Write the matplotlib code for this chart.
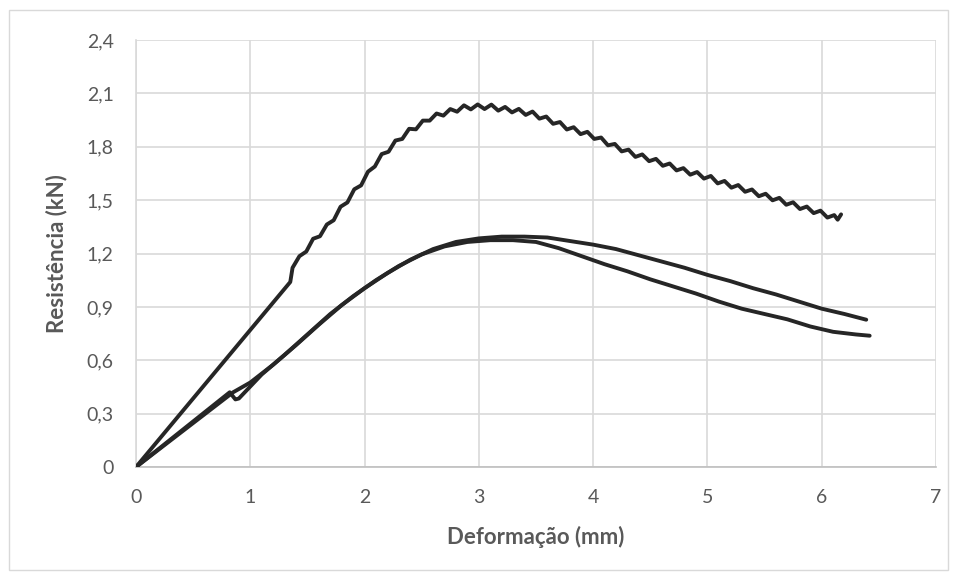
import matplotlib
matplotlib.use("Agg")
import matplotlib.pyplot as plt
from matplotlib.patches import Rectangle
from matplotlib.ticker import FuncFormatter

plt.rcParams['font.family'] = ['Lato', 'DejaVu Sans']

# Ensaio 1 (curva com oscilações)
def_a = [0, 1.35, 1.37, 1.43, 1.49, 1.55, 1.61, 1.67, 1.73, 1.79, 1.85, 1.91, 1.97,
         2.03, 2.09, 2.15, 2.21, 2.27, 2.33, 2.39, 2.45, 2.51, 2.57, 2.63, 2.69,
         2.75, 2.81, 2.87, 2.93, 2.99, 3.05, 3.11, 3.17, 3.23, 3.29, 3.35, 3.41,
         3.47, 3.53, 3.59, 3.65, 3.71, 3.77, 3.83, 3.89, 3.95, 4.01, 4.07, 4.13,
         4.19, 4.25, 4.31, 4.37, 4.43, 4.49, 4.55, 4.61, 4.67, 4.73, 4.79, 4.85,
         4.91, 4.97, 5.03, 5.09, 5.15, 5.21, 5.27, 5.33, 5.39, 5.45, 5.51, 5.57,
         5.63, 5.69, 5.75, 5.81, 5.87, 5.93, 5.99, 6.05, 6.11, 6.14, 6.17]
res_a = [0, 1.04, 1.12, 1.185, 1.211, 1.283, 1.297, 1.363, 1.387, 1.463, 1.487, 1.561, 1.583,
         1.660, 1.689, 1.759, 1.772, 1.835, 1.844, 1.901, 1.898, 1.947, 1.947, 1.987, 1.975,
         2.012, 1.997, 2.033, 2.010, 2.038, 2.012, 2.037, 2.003, 2.024, 1.993, 2.013, 1.979,
         1.998, 1.958, 1.970, 1.929, 1.939, 1.897, 1.910, 1.871, 1.884, 1.844, 1.852, 1.808,
         1.816, 1.774, 1.784, 1.743, 1.757, 1.719, 1.732, 1.693, 1.706, 1.667, 1.680, 1.643,
         1.658, 1.621, 1.636, 1.594, 1.608, 1.570, 1.585, 1.547, 1.560, 1.522, 1.536, 1.499,
         1.513, 1.474, 1.488, 1.450, 1.464, 1.427, 1.441, 1.402, 1.416, 1.390, 1.420]

# Ensaio 2
def_b = [0, 0.85, 1.0, 1.2, 1.4, 1.6, 1.8, 2.0, 2.2, 2.4, 2.6, 2.8, 3.0, 3.2, 3.4,
         3.6, 3.8, 4.0, 4.2, 4.4, 4.6, 4.8, 5.0, 5.2, 5.4, 5.6, 5.8, 6.0, 6.2, 6.39]
res_b = [0, 0.42, 0.475, 0.575, 0.685, 0.80, 0.91, 1.005, 1.09, 1.165, 1.225, 1.265, 1.285,
         1.295, 1.295, 1.29, 1.27, 1.25, 1.225, 1.19, 1.155, 1.12, 1.08, 1.045, 1.005,
         0.97, 0.93, 0.89, 0.86, 0.828]

# Ensaio 3
def_c = [0, 0.82, 0.87, 0.9, 1.1, 1.3, 1.5, 1.7, 1.9, 2.1, 2.3, 2.5, 2.7, 2.9, 3.1,
         3.3, 3.5, 3.7, 3.9, 4.1, 4.3, 4.5, 4.7, 4.9, 5.1, 5.3, 5.5, 5.7, 5.9, 6.1,
         6.3, 6.42]
res_c = [0, 0.42, 0.38, 0.385, 0.52, 0.63, 0.745, 0.86, 0.96, 1.05, 1.13, 1.195, 1.24,
         1.265, 1.275, 1.275, 1.265, 1.23, 1.185, 1.14, 1.10, 1.055, 1.015, 0.975, 0.93,
         0.89, 0.86, 0.83, 0.79, 0.76, 0.745, 0.738]

x_ticks = [0, 1, 2, 3, 4, 5, 6, 7]
y_ticks = [0, 0.3, 0.6, 0.9, 1.2, 1.5, 1.8, 2.1, 2.4]

line_color = '#262626'
grid_color = '#d9d9d9'
text_color = '#595959'

fig = plt.figure(figsize=(9.57, 5.8), dpi=100)
ax = fig.add_axes([0.1421, 0.1948, 0.8359, 0.7362])

for xs, ys in ((def_b, res_b), (def_c, res_c), (def_a, res_a)):
    ax.plot(xs, ys, color=line_color, lw=2.8, solid_joinstyle='round',
            solid_capstyle='round', zorder=3)

ax.set_xlim(0, 7)
ax.set_ylim(0, 2.4)
ax.set_xticks(x_ticks)
ax.set_yticks(y_ticks)

def fmt_comma(v, pos):
    s = f"{v:.1f}".rstrip('0').rstrip('.')
    return s.replace('.', ',')

ax.xaxis.set_major_formatter(FuncFormatter(fmt_comma))
ax.yaxis.set_major_formatter(FuncFormatter(fmt_comma))

ax.grid(True, color=grid_color, lw=1.2, zorder=0)
ax.set_axisbelow(True)
for side in ('top', 'right'):
    ax.spines[side].set_visible(False)
ax.spines['left'].set_color(grid_color)
ax.spines['left'].set_linewidth(1.2)
ax.spines['bottom'].set_color('#bfbfbf')
ax.spines['bottom'].set_linewidth(1.2)

ax.tick_params(axis='both', length=0, labelsize=14, colors=text_color)
ax.tick_params(axis='x', pad=16)
ax.tick_params(axis='y', pad=16)

ax.set_xlabel('Deformação (mm)', fontsize=16, fontweight='bold', color=text_color, labelpad=14)
ax.set_ylabel('Resistência (kN)', fontsize=16, fontweight='bold', color=text_color, labelpad=14)

fig.patches.append(Rectangle((9 / 957, 10 / 580), 939 / 957, 560 / 580,
                             transform=fig.transFigure, fill=False,
                             edgecolor=grid_color, lw=1.0))

fig.savefig('out.png', dpi=100)
